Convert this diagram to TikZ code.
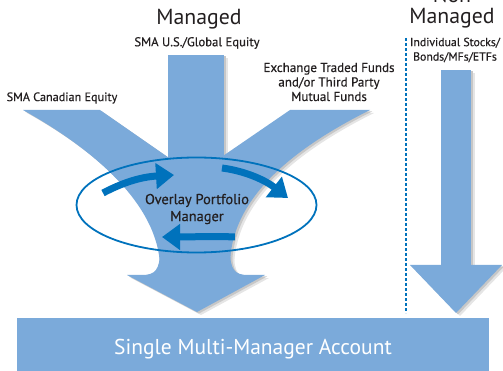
\documentclass[tikz,border=0pt]{standalone}
\usepackage{fontspec}
\setmainfont{PT Sans}
\newfontfamily\semib{PT Sans}[FakeBold=0.5]
\usetikzlibrary{arrows.meta,shapes.geometric}
\definecolor{lblue}{RGB}{123,170,218}
\definecolor{dblue}{RGB}{0,114,188}
\definecolor{txt}{RGB}{35,31,32}
\tikzset{
  fillblue/.style={fill=lblue, draw=none},
  shade1/.style={fill=black!10, draw=none},
  shade2/.style={fill=black!22, draw=none},
  lbl/.style={text=txt, font=\semib\fontsize{12.5}{14.5}\selectfont, align=center, inner sep=0pt},
  bigt/.style={text=txt, font=\fontsize{21.8}{22}\selectfont, inner sep=0pt},
  rot/.style={draw=dblue, line width=7pt, -{Triangle[length=18pt,width=25pt]}},
}
% funnel drawn as separate filled pieces (#1 = style)
\newcommand{\funnelpieces}[1]{%
  \path[#1] (168,55) rectangle (224,265);
  \path[#1] (23,110) -- (100,110) -- (172,160) -- (172,266) -- (160,266) .. controls (158,205) and (95,150) .. (23,110) -- cycle;
  \path[#1] (370,110) -- (290,110) -- (220,158) -- (220,266) -- (230,266) .. controls (230,200) and (290,150) .. (370,110) -- cycle;
  \path[#1] (160,250) .. controls (160,270) and (155,275) .. (142,275) -- (127,275) -- (197,312) -- (265,275) -- (248,275) .. controls (235,275) and (230,270) .. (230,250) -- cycle;
  \path[#1] (441,70) rectangle (471,266);
  \path[#1] (410,265) -- (502,265) -- (456,313) -- cycle;
}
\begin{document}
\begin{tikzpicture}[x=1pt,y=-1pt]
\useasboundingbox (0,0) rectangle (503,371);
% shadows
\begin{scope}[shift={(4,3)}]
  \funnelpieces{shade1}
\end{scope}
\begin{scope}[shift={(2,1.5)}]
  \funnelpieces{shade2}
\end{scope}
% shapes
\funnelpieces{fillblue}
% bottom bar
\node[fill=lblue, minimum width=472pt, minimum height=54pt, inner sep=0pt, anchor=north west] (acct) at (17,318) {};
\node[text=white, font=\fontsize{21.5}{22}\selectfont, inner sep=0pt, anchor=base] (accttxt) at (253,354.5) {Single Multi-Manager Account};
% dashed separator
\coordinate (dtop) at (406,38);
\coordinate (dbot) at (406,313);
\draw[dblue, line width=1.3pt, dash pattern=on 3pt off 2pt] (dtop) -- (dbot);
% ellipse
\node[draw=dblue, line width=1.8pt, ellipse, minimum width=240pt, minimum height=95pt, inner sep=0pt] (ell) at (196.5,205) {};
% rotating arrows
\coordinate (a1s) at (103,193);
\coordinate (a1e) at (174,175);
\coordinate (a2s) at (222,168);
\coordinate (a2e) at (288,198);
\coordinate (a3s) at (235,237);
\coordinate (a3e) at (162,237);
\draw[rot] (a1s) .. controls (122,183) and (140,177) .. (a1e);
\draw[rot] (a2s) .. controls (245,171) and (265,180) .. (a2e);
\draw[rot] (a3s) .. controls (215,236) and (190,237) .. (a3e);
% texts
\node[lbl, font=\semib\fontsize{14.4}{17}\selectfont] (opm) at (197,209) {Overlay Portfolio\\Manager};
\node[bigt] (m1) at (199,19) {Managed};
\node[bigt, anchor=base] (non) at (452,3) {Non};
\node[bigt] (m2) at (452,18) {Managed};
\node[lbl, font=\semib\fontsize{12.7}{14.5}\selectfont] (usg) at (197,43) {SMA U.S./Global Equity};
\node[lbl, font=\semib\fontsize{13}{14.5}\selectfont] (etf) at (329,82) {Exchange Traded Funds\\and/or Third Party\\Mutual Funds};
\node[lbl, font=\semib\fontsize{12.2}{14.5}\selectfont] (can) at (62,98) {SMA Canadian Equity};
\node[lbl, font=\semib\fontsize{11.8}{14.5}\selectfont] (ind) at (455,50) {Individual Stocks/\\Bonds/MFs/ETFs};
\end{tikzpicture}
\end{document}
